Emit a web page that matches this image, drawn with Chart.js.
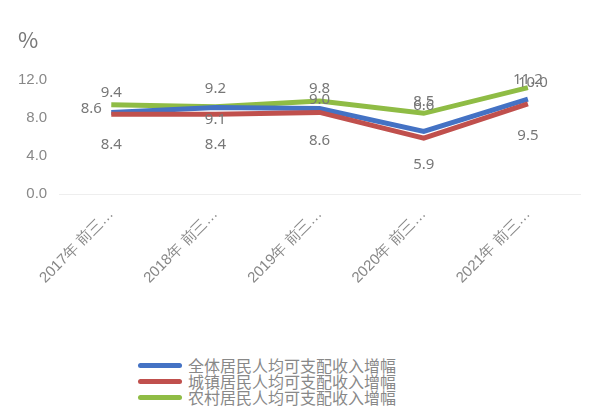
<!DOCTYPE html>
<html><head><meta charset="utf-8">
<script src="https://cdn.jsdelivr.net/npm/chart.js@4"></script>
<style>
body{margin:0;background:#fff;font-family:"Noto Sans CJK SC",sans-serif}
#wrap{position:relative;width:600px;height:417px}
#unit{position:absolute;left:18px;top:22px;font-size:22px;color:#777}
#legend{position:absolute;left:138px;top:357px;font-size:16px;line-height:16px;color:#888}
#legend div{display:flex;align-items:center}
#legend span{display:inline-block;width:44px;height:5px;border-radius:3px;margin-right:6px}
</style></head>
<body><div id="wrap">
<canvas id="c" width="600" height="300" style="position:absolute;left:0;top:0"></canvas>
<div id="unit">%</div>
<div id="legend"></div>
</div>
<script>
// data
const categories = ['2017年 前三季度','2018年 前三季度','2019年 前三季度','2020年 前三季度','2021年 前三季度'];
const seriesNames = ['全体居民人均可支配收入增幅','城镇居民人均可支配收入增幅','农村居民人均可支配收入增幅'];
const allValues = [8.6, 9.1, 9.0, 6.6, 10.0];
const urbanValues = [8.4, 8.4, 8.6, 5.9, 9.5];
const ruralValues = [9.4, 9.2, 9.8, 8.5, 11.2];
const colors = ['#4472c4','#c0504d','#8fbc45'];
const yTicks = [0, 2, 4, 6, 8, 10, 12];

// label offsets [dx, dy] per point, keyed by series name
const offs = {
  all:   [[-20, -4], [0, 12], [0, -9], [0, -26], [5, -16]],
  urban: [[0, 30], [0, 30], [0, 28], [0, 27], [0, 32]],
  rural: [[0, -12], [0, -18], [0, -12], [0, -12], [0, -8]]
};

const labelPlugin = {
  id: 'vals',
  afterDatasetsDraw(chart) {
    const ctx = chart.ctx;
    ctx.save();
    ctx.font = '15px "Noto Sans", sans-serif';
    ctx.fillStyle = '#777';
    ctx.textAlign = 'center';
    ctx.textBaseline = 'middle';
    chart.data.datasets.forEach((ds, i) => {
      chart.getDatasetMeta(i).data.forEach((pt, j) => {
        const o = offs[ds.key][j];
        ctx.fillText(ds.data[j].toFixed(1), pt.x + o[0], pt.y + o[1]);
      });
    });
    ctx.restore();
  }
};

new Chart(document.getElementById('c'), {
  type: 'line',
  data: {
    labels: categories,
    datasets: [
      {key: 'urban', label: seriesNames[1], data: urbanValues, borderColor: colors[1]},
      {key: 'all', label: seriesNames[0], data: allValues, borderColor: colors[0]},
      {key: 'rural', label: seriesNames[2], data: ruralValues, borderColor: colors[2]}
    ].map(d => Object.assign(d, {borderWidth: 5, pointRadius: 0, tension: 0, fill: false}))
  },
  options: {
    responsive: false,
    animation: false,
    layout: {padding: {top: 80, right: 20, left: 14, bottom: 10}},
    plugins: {legend: {display: false}, tooltip: {enabled: false}},
    scales: {
      x: {
        offset: true,
        grid: {display: false},
        border: {color: '#eeeeee'},
        ticks: {
          color: '#888', font: {size: 15}, maxRotation: 45, minRotation: 45,
          callback: function (v) { return categories[v].slice(0, 8) + '…'; }
        }
      },
      y: {
        min: 0, max: 12,
        afterBuildTicks: ax => { ax.ticks = yTicks.map(v => ({value: v})); },
        grid: {display: false},
        border: {display: false},
        ticks: {color: '#888', font: {size: 15}, padding: 4, callback: v => v.toFixed(1)}
      }
    }
  },
  plugins: [labelPlugin]
});

const leg = document.getElementById('legend');
seriesNames.forEach((n, i) => {
  const row = document.createElement('div');
  row.innerHTML = '<span style="background:' + colors[i] + '"></span>' + n;
  leg.appendChild(row);
});
</script>
</body></html>
